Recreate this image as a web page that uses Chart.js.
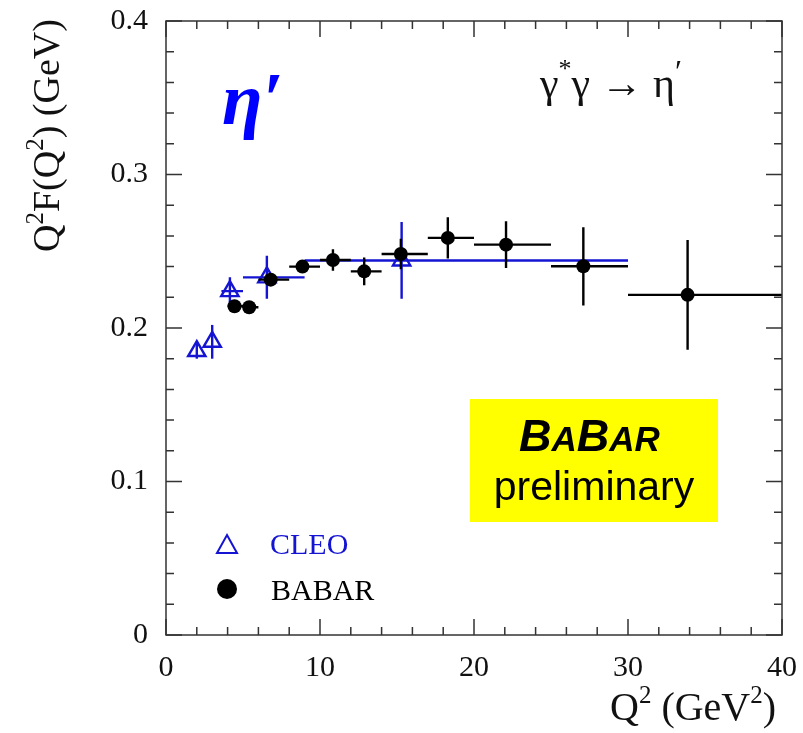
<!DOCTYPE html>
<html>
<head>
<meta charset="utf-8">
<script src="https://cdn.jsdelivr.net/npm/chart.js@4.4.1/dist/chart.umd.min.js"></script>
<style>
  html, body { margin: 0; padding: 0; background: #fff; }
  #wrap { width: 803px; height: 733px; }
</style>
</head>
<body>
<div id="wrap"><canvas id="ffChart" width="803" height="733"></canvas></div>
<script>
// CLEO points (open triangles)
const cleoQ2  = [2.0, 3.0, 4.15, 6.55, 15.3];
const cleoVal = [0.185, 0.191, 0.224, 0.233, 0.244];
const cleoErr = [0.005, 0.011, 0.009, 0.014, 0.025];
const cleoLo  = [2.0, 3.0, 3.6, 5.0, 9.0];
const cleoHi  = [2.0, 3.0, 5.0, 9.0, 30.0];

// BABAR points (filled circles)
const babarQ2  = [4.45, 5.4, 6.8, 8.86, 10.84, 12.87, 15.25, 18.3, 22.08, 27.1, 33.87];
const babarVal = [0.2142, 0.2135, 0.2315, 0.240, 0.2443, 0.2369, 0.2482, 0.2587, 0.2543, 0.2402, 0.2216];
const babarErr = [0.003, 0.003, 0.004, 0.004, 0.007, 0.009, 0.010, 0.0135, 0.0152, 0.0255, 0.0358];
const babarLo  = [4, 5, 6, 8, 10, 12, 14, 17, 20, 25, 30];
const babarHi  = [5, 6, 8, 10, 12, 14, 17, 20, 25, 30, 40];

const xTicks = [0, 10, 20, 30, 40];
const yTicks = [0, 0.1, 0.2, 0.3, 0.4];
const yTickLabels = ['0', '0.1', '0.2', '0.3', '0.4'];

const BLUE = '#1414d2';
const SERIF = '"Liberation Serif", "DejaVu Serif", serif';
const SANS = 'Arial, "Liberation Sans", sans-serif';

const errors = [
  { lo: cleoLo, hi: cleoHi, err: cleoErr, color: BLUE },
  { lo: babarLo, hi: babarHi, err: babarErr, color: '#000' }
];

const errorBars = {
  id: 'errorBars',
  beforeDatasetDraw(chart, args) {
    const e = errors[args.index];
    const ds = chart.data.datasets[args.index];
    const xs = chart.scales.x, ys = chart.scales.y;
    const ctx = chart.ctx;
    ctx.save();
    ctx.strokeStyle = e.color;
    ctx.lineWidth = 2.4;
    ds.data.forEach((p, i) => {
      const px = xs.getPixelForValue(p.x), py = ys.getPixelForValue(p.y);
      ctx.beginPath();
      ctx.moveTo(px, ys.getPixelForValue(p.y - e.err[i]));
      ctx.lineTo(px, ys.getPixelForValue(p.y + e.err[i]));
      ctx.moveTo(xs.getPixelForValue(e.lo[i]), py);
      ctx.lineTo(xs.getPixelForValue(e.hi[i]), py);
      ctx.stroke();
    });
    ctx.restore();
  }
};

// draws text pieces one after another: [text, font, dy]
function runText(ctx, runs, x, y) {
  runs.forEach(r => {
    ctx.font = r[1];
    ctx.fillText(r[0], x, y + (r[2] || 0));
    x += ctx.measureText(r[0]).width;
  });
}

const frame = {
  id: 'frame',
  afterDraw(chart) {
    const ctx = chart.ctx;
    const xs = chart.scales.x, ys = chart.scales.y;
    const a = chart.chartArea;
    ctx.save();
    ctx.strokeStyle = '#333';
    ctx.lineWidth = 1.5;
    ctx.strokeRect(a.left, a.top, a.right - a.left, a.bottom - a.top);

    ctx.beginPath();
    for (let v = 0; v <= 40.001; v += 2) {
      const px = xs.getPixelForValue(v);
      const len = (Math.round(v) % 10 === 0) ? 16 : 8;
      ctx.moveTo(px, a.bottom); ctx.lineTo(px, a.bottom - len);
      ctx.moveTo(px, a.top); ctx.lineTo(px, a.top + len);
    }
    for (let k = 0; k <= 20; k++) {
      const py = ys.getPixelForValue(k * 0.02);
      const len = (k % 5 === 0) ? 16 : 8;
      ctx.moveTo(a.left, py); ctx.lineTo(a.left + len, py);
      ctx.moveTo(a.right, py); ctx.lineTo(a.right - len, py);
    }
    ctx.stroke();

    // tick labels
    ctx.fillStyle = '#111';
    ctx.font = '30px ' + SERIF;
    ctx.textAlign = 'center';
    ctx.textBaseline = 'middle';
    xTicks.forEach(v => ctx.fillText(String(v), xs.getPixelForValue(v), 668));
    ctx.textAlign = 'right';
    yTicks.forEach((v, i) => ctx.fillText(yTickLabels[i], 148, ys.getPixelForValue(v)));

    // axis titles
    ctx.textAlign = 'left';
    ctx.textBaseline = 'alphabetic';
    const big = '40px ' + SERIF, sup = '25px ' + SERIF;
    runText(ctx, [['Q', big], ['2', sup, -17], [' (GeV', big], ['2', sup, -17], [')', big]], 610, 720);

    ctx.save();
    ctx.translate(59, 252);
    ctx.rotate(-Math.PI / 2);
    const ybig = '38px ' + SERIF;
    runText(ctx, [['Q', ybig], ['2', sup, -16], ['F(Q', ybig], ['2', sup, -16], [') (GeV)', ybig]], 0, 0);
    ctx.restore();

    // eta prime label
    ctx.fillStyle = '#0000ff';
    ctx.font = 'italic bold 74px ' + SERIF;
    ctx.fillText('\u03b7\u2032', 222, 124);

    // process label
    ctx.fillStyle = '#111';
    const p = '42px ' + SERIF;
    runText(ctx, [['\u03b3', p], ['*', '26px ' + SERIF, -20], ['\u03b3 \u2192 \u03b7', p], ['\u2032', '32px ' + SERIF, -15]], 540, 97);

    // preliminary box
    ctx.fillStyle = '#ffff00';
    ctx.fillRect(470, 399, 248, 123);
    ctx.fillStyle = '#000';
    const B = 'italic bold 45px ' + SANS, A = 'italic bold 35px ' + SANS;
    runText(ctx, [['B', B], ['A', A], ['B', B], ['AR', A]], 519, 451);
    ctx.font = '41px ' + SANS;
    ctx.textAlign = 'center';
    ctx.fillText('preliminary', 594, 500);

    // legend
    ctx.textAlign = 'left';
    ctx.strokeStyle = BLUE;
    ctx.lineWidth = 2;
    ctx.beginPath();
    ctx.moveTo(227, 535); ctx.lineTo(237, 553); ctx.lineTo(217, 553); ctx.closePath();
    ctx.stroke();
    ctx.fillStyle = BLUE;
    ctx.font = '30px ' + SERIF;
    ctx.fillText('CLEO', 270, 554);
    ctx.fillStyle = '#000';
    ctx.beginPath();
    ctx.arc(227, 589, 10, 0, Math.PI * 2);
    ctx.fill();
    ctx.fillText('BABAR', 271, 600);
    ctx.restore();
  }
};

const ctx = document.getElementById('ffChart').getContext('2d');
new Chart(ctx, {
  type: 'scatter',
  data: {
    datasets: [
      {
        label: 'CLEO',
        data: cleoQ2.map((q, i) => ({ x: q, y: cleoVal[i] })),
        pointStyle: 'triangle',
        pointRadius: 10,
        pointBorderWidth: 2.4,
        borderColor: BLUE,
        backgroundColor: 'rgba(0,0,0,0)',
        order: 1
      },
      {
        label: 'BABAR',
        data: babarQ2.map((q, i) => ({ x: q, y: babarVal[i] })),
        pointStyle: 'circle',
        pointRadius: 7,
        pointBorderWidth: 0,
        borderColor: '#000',
        backgroundColor: '#000',
        order: 0
      }
    ]
  },
  options: {
    responsive: false,
    animation: false,
    layout: { padding: { left: 166, right: 21, top: 21, bottom: 98 } },
    plugins: { legend: { display: false }, tooltip: { enabled: false } },
    scales: {
      x: { type: 'linear', min: 0, max: 40, display: false },
      y: { type: 'linear', min: 0, max: 0.4, display: false }
    }
  },
  plugins: [errorBars, frame]
});
</script>
</body>
</html>
